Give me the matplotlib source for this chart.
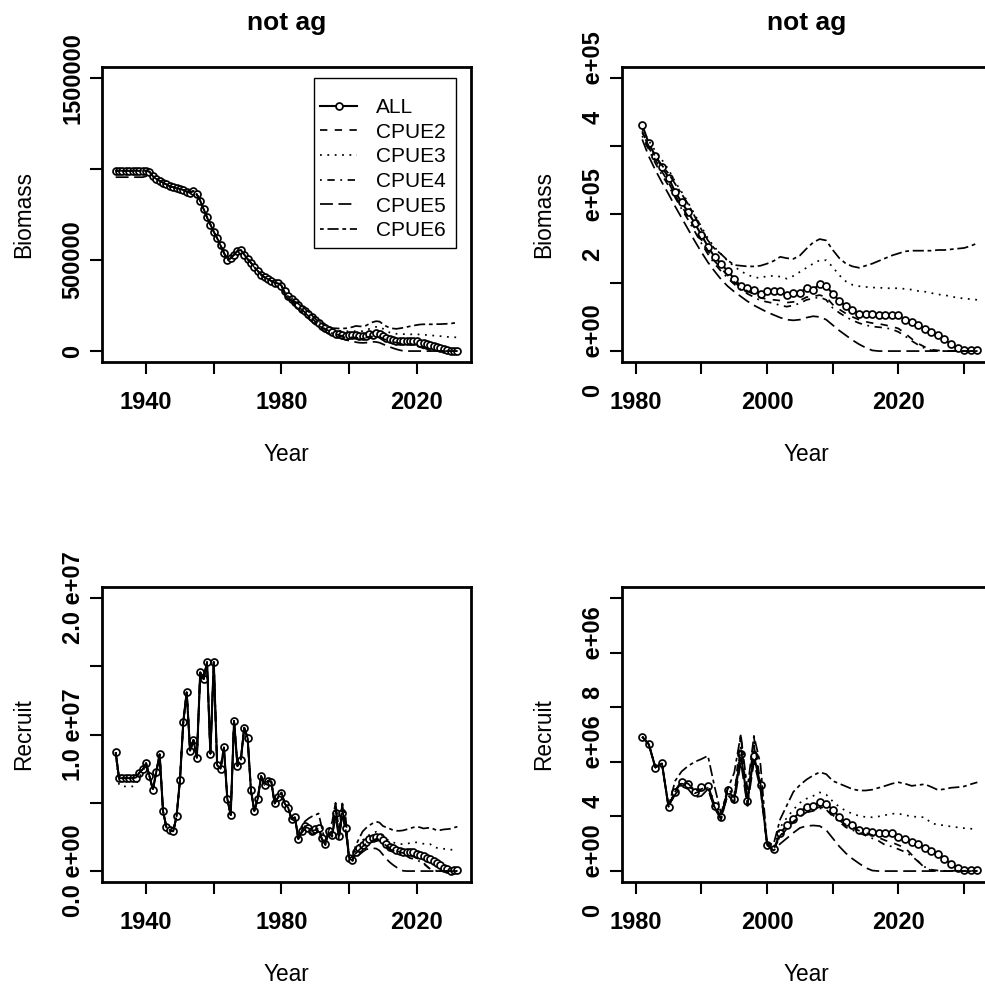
import numpy as np
import matplotlib
matplotlib.use('Agg')
import matplotlib.pyplot as plt
from matplotlib.patches import Rectangle

plt.rcParams['font.family'] = ['Liberation Sans', 'DejaVu Sans']
plt.rcParams['lines.scale_dashes'] = False

years = list(range(1931, 2033))
names = ['ALL', 'CPUE2', 'CPUE3', 'CPUE4', 'CPUE5', 'CPUE6']

# Biomass (thousands), 1931-1980 shared by all runs
bio_hist = [990, 990, 990, 990, 990, 990, 990, 990, 990, 990,
            985, 960, 945, 935, 925, 915, 905, 900, 895, 890,
            885, 875, 870, 880, 860, 825, 780, 735, 695, 655,
            620, 580, 540, 500, 510, 530, 550, 555, 530, 505,
            485, 460, 440, 420, 405, 395, 385, 375, 372, 360]
bio_cpue5_early = [955, 955, 955, 955, 955, 955, 955, 955, 955, 960]

# Biomass (thousands), 1981-2032
bio_all_tail = [331, 304, 286, 270, 254, 233, 218, 203, 187, 170,
                153, 138, 128, 117, 106, 95, 93, 90, 84, 88,
                88, 88, 82, 85, 85, 93, 90, 98, 95, 84,
                73, 66, 60, 55, 55, 55, 53, 53, 53, 53,
                46, 43, 38, 33, 28, 23, 17, 10, 4, 1,
                1, 1]
bio_cpue2_tail = [322, 298, 280, 263, 247, 228, 212, 197, 180, 163,
                  147, 132, 121, 111, 101, 93, 88, 83, 78, 76,
                  75, 74, 71, 72, 74, 79, 80, 82, 79, 68,
                  61, 55, 50, 46, 43, 41, 40, 38, 36, 33,
                  26, 18, 11, 6, 2, 1, 0, 0, 0, 0,
                  0, 0]
bio_cpue3_tail = [325, 308, 293, 280, 266, 248, 233, 217, 200, 182,
                  165, 152, 142, 132, 124, 117, 112, 108, 107, 110,
                  110, 109, 106, 110, 116, 122, 128, 133, 133, 123,
                  111, 102, 97, 95, 94, 93, 93, 92, 92, 92,
                  91, 90, 88, 87, 85, 83, 82, 80, 78, 77,
                  76, 75]
bio_cpue4_tail = [315, 295, 275, 258, 242, 225, 208, 192, 175, 158,
                  142, 128, 117, 107, 98, 90, 84, 79, 74, 72,
                  70, 67, 65, 67, 70, 75, 77, 79, 75, 63,
                  56, 50, 45, 41, 38, 36, 35, 34, 32, 28,
                  22, 15, 9, 4, 1, 0, 0, 0, 0, 0,
                  0, 0]
bio_cpue5_tail = [310, 285, 265, 247, 230, 212, 195, 178, 161, 145,
                  130, 117, 105, 95, 87, 80, 73, 67, 62, 57,
                  53, 49, 46, 45, 46, 49, 51, 50, 46, 38,
                  30, 23, 16, 10, 5, 1, 0, 0, 0, 0,
                  0, 0, 0, 0, 0, 0, 0, 0, 0, 0,
                  0, 0]
bio_cpue6_tail = [320, 300, 285, 272, 260, 245, 230, 215, 197, 178,
                  162, 150, 142, 133, 126, 125, 124, 124, 125, 128,
                  132, 138, 136, 135, 140, 150, 159, 164, 162, 148,
                  136, 128, 124, 122, 125, 128, 132, 136, 140, 143,
                  146, 147, 147, 147, 147, 148, 148, 149, 150, 151,
                  154, 158]

# Recruits (millions), 1931-1980 shared by all runs
rec_hist = [8.7, 6.8, 6.8, 6.8, 6.8, 6.8, 6.85, 7.2, 7.45, 7.9,
            6.95, 5.95, 7.25, 8.55, 4.4, 3.2, 3.0, 2.9, 4.0, 6.65,
            10.95, 13.1, 8.8, 9.6, 8.3, 14.55, 14.05, 15.3, 8.6, 15.3,
            7.75, 7.5, 9.05, 5.3, 4.1, 11.0, 7.7, 8.15, 10.5, 9.75,
            5.9, 4.4, 5.3, 6.95, 6.3, 6.6, 6.55, 4.95, 5.4, 5.75]
rec_cpue3_early = [8.6, 6.3, 6.2, 6.2, 6.2, 6.2, 6.3, 6.9, 7.3, 7.8]

# Recruits (millions), 1981-2032
rec_all_tail = [4.92, 4.64, 3.79, 3.94, 2.36, 2.91, 3.27, 3.19, 2.91, 3.07,
                3.13, 2.40, 1.97, 2.95, 2.64, 4.28, 2.58, 4.22, 3.15, 0.97,
                0.79, 1.39, 1.67, 1.92, 2.16, 2.36, 2.40, 2.52, 2.46, 2.25,
                1.97, 1.79, 1.67, 1.52, 1.47, 1.43, 1.39, 1.39, 1.39, 1.25,
                1.19, 1.07, 0.98, 0.86, 0.74, 0.62, 0.46, 0.25, 0.12, 0.04,
                0.05, 0.05]
rec_cpue2_tail = [4.92, 4.64, 3.79, 3.94, 2.36, 2.95, 3.3, 3.2, 2.95, 3.0,
                  3.1, 2.35, 1.9, 3.05, 2.7, 5.0, 2.4, 4.9, 3.2, 1.0,
                  0.8, 1.25, 1.55, 1.8, 2.0, 2.15, 2.25, 2.35, 2.3, 2.05,
                  1.85, 1.7, 1.58, 1.48, 1.4, 1.32, 1.22, 1.12, 1.05, 0.95,
                  0.85, 0.6, 0.35, 0.12, 0.02, 0.0, 0.0, 0.0, 0.0, 0.0,
                  0.0, 0.0]
rec_cpue3_tail = [4.92, 4.64, 3.79, 3.94, 2.36, 2.9, 3.25, 3.2, 2.95, 3.05,
                  3.15, 2.5, 2.05, 3.0, 2.8, 4.5, 2.7, 4.5, 3.3, 1.0,
                  0.85, 1.6, 1.95, 2.25, 2.5, 2.65, 2.75, 2.88, 2.8, 2.55,
                  2.35, 2.2, 2.1, 2.02, 1.98, 1.97, 2.0, 2.05, 2.1, 2.1,
                  2.05, 2.0, 1.98, 1.97, 1.75, 1.7, 1.67, 1.63, 1.6, 1.57,
                  1.55, 1.53]
rec_cpue4_tail = [4.92, 4.64, 3.79, 3.94, 2.36, 2.9, 3.2, 3.15, 2.85, 2.95,
                  3.05, 2.3, 1.95, 2.8, 2.55, 4.6, 2.3, 4.6, 3.0, 0.95,
                  0.75, 1.3, 1.55, 1.8, 2.0, 2.15, 2.2, 2.3, 2.25, 2.0,
                  1.8, 1.6, 1.5, 1.4, 1.3, 1.2, 1.1, 0.95, 0.9, 0.8,
                  0.7, 0.55, 0.35, 0.15, 0.05, 0.02, 0.01, 0.01, 0.01, 0.01,
                  0.01, 0.01]
rec_cpue5_tail = [4.92, 4.64, 3.79, 3.94, 2.36, 2.8, 3.1, 3.0, 2.7, 2.75,
                  3.0, 2.3, 1.9, 2.8, 2.5, 4.0, 2.4, 4.0, 3.0, 0.95,
                  0.75, 1.0, 1.2, 1.4, 1.58, 1.65, 1.67, 1.65, 1.5, 1.2,
                  0.9, 0.65, 0.45, 0.28, 0.12, 0.02, 0.0, 0.0, 0.0, 0.0,
                  0.0, 0.0, 0.0, 0.0, 0.0, 0.0, 0.0, 0.0, 0.0, 0.0,
                  0.0, 0.0]
rec_cpue6_tail = [4.92, 4.64, 3.79, 3.94, 2.36, 3.3, 3.65, 3.85, 4.0, 4.1,
                  4.22, 3.1, 2.1, 3.0, 3.6, 5.0, 3.0, 4.95, 3.9, 1.0,
                  1.0, 1.9, 2.4, 2.9, 3.15, 3.35, 3.5, 3.62, 3.55, 3.3,
                  3.2, 3.1, 3.0, 2.95, 2.95, 2.98, 3.05, 3.12, 3.2, 3.25,
                  3.2, 3.12, 3.15, 3.18, 3.08, 2.97, 3.0, 3.05, 3.07, 3.1,
                  3.18, 3.25]

biomass = {
    'ALL': bio_hist + bio_all_tail,
    'CPUE2': bio_hist + bio_cpue2_tail,
    'CPUE3': bio_hist + bio_cpue3_tail,
    'CPUE4': bio_hist + bio_cpue4_tail,
    'CPUE5': bio_cpue5_early + bio_hist[10:] + bio_cpue5_tail,
    'CPUE6': bio_hist + bio_cpue6_tail,
}
recruit = {
    'ALL': rec_hist + rec_all_tail,
    'CPUE2': rec_hist + rec_cpue2_tail,
    'CPUE3': rec_cpue3_early + rec_hist[10:] + rec_cpue3_tail,
    'CPUE4': rec_hist + rec_cpue4_tail,
    'CPUE5': rec_hist + rec_cpue5_tail,
    'CPUE6': rec_hist + rec_cpue6_tail,
}

# R style line types
dash = {
    'CPUE2': (0, (5.3, 5.3)),
    'CPUE3': (0, (1.3, 4.0)),
    'CPUE4': (0, (1.3, 4.0, 5.3, 4.0)),
    'CPUE5': (0, (9.3, 4.0)),
    'CPUE6': (0, (2.7, 2.7, 8.0, 2.7)),
}

W, H = 985, 986
fig = plt.figure(figsize=(W / 100, H / 100), dpi=100)
fig.patch.set_facecolor('white')


def box(x0, y0, x1, y1):
    return [x0 / W, 1 - y1 / H, (x1 - x0) / W, (y1 - y0) / H]


def panel(pos, data, scale, start, xlim, xticks, xlabels, ylim, yticks, ylabels, ylab):
    ax = fig.add_axes(box(*pos))
    x = np.array(years)
    keep = x >= start
    for n in names:
        y = np.array(data[n], dtype=float) * scale
        if n == 'ALL':
            ax.plot(x[keep], y[keep], '-', color='black', lw=1.5, marker='o',
                    ms=5.0, mfc='white', mec='black', mew=1.25, label=n, zorder=2)
        else:
            ax.plot(x[keep], y[keep], color='black', lw=1.25, linestyle=dash[n],
                    label=n, zorder=3)
    ax.set_xlim(*xlim)
    ax.set_ylim(*ylim)
    ax.set_xticks(xticks)
    ax.set_xticklabels(xlabels, fontsize=17, fontweight='bold')
    ax.set_yticks(yticks)
    ax.set_yticklabels(ylabels, fontsize=17, fontweight='bold', rotation=90, va='center')
    ax.tick_params(axis='both', direction='out', length=8.6, width=1.5, color='black')
    ax.tick_params(axis='x', pad=12)
    ax.tick_params(axis='y', pad=4)
    for s in ax.spines.values():
        s.set_linewidth(2.0)
    ax.set_xlabel('Year', fontsize=16.3)
    ax.xaxis.set_label_coords(0.5, -0.274)
    ax.set_ylabel(ylab, fontsize=16.3)
    ax.yaxis.set_label_coords(-0.18, 0.5)
    return ax


left_x = (1926.96, 2036.04)
right_x = (1977.92, 2034.08)
lx_t = [1940, 1960, 1980, 2000, 2020]
lx_l = ['1940', '', '1980', '', '2020']
rx_t = [1980, 1990, 2000, 2010, 2020, 2030]
rx_l = ['1980', '', '2000', '', '2020', '']

ax1 = panel((102, 67, 471, 362), biomass, 1e3, 1931, left_x, lx_t, lx_l,
            (-6e4, 1.56e6), [0, 5e5, 1e6, 1.5e6], ['0', '500000', '', '1500000'], 'Biomass')
ax2 = panel((622, 67, 991, 362), biomass, 1e3, 1981, right_x, rx_t, rx_l,
            (-1.6e4, 4.16e5), [0, 1e5, 2e5, 3e5, 4e5],
            ['0    e+00', '', '2    e+05', '', '4    e+05'], 'Biomass')
ax3 = panel((102, 587, 471, 882), recruit, 1e6, 1931, left_x, lx_t, lx_l,
            (-8e5, 2.08e7), [0, 5e6, 1e7, 1.5e7, 2e7],
            ['0.0 e+00', '', '1.0 e+07', '', '2.0 e+07'], 'Recruit')
ax4 = panel((622, 587, 991, 882), recruit, 1e6, 1981, right_x, rx_t, rx_l,
            (-4e5, 1.04e7), [0, 2e6, 4e6, 6e6, 8e6, 1e7],
            ['0    e+00', '', '4    e+06', '', '8    e+06', ''], 'Recruit')

for ax in (ax1, ax2):
    ax.text(0.5, (362 - 30) / 295, 'not ag', transform=ax.transAxes, ha='center',
            va='baseline', fontsize=19, fontweight='bold')

# legend: entries without frame, box drawn separately like R's legend()
pw, ph = 369, 295
leg = ax1.legend(loc='upper left', bbox_to_anchor=((320 - 102) / pw, (362 - 98) / ph),
                 borderaxespad=0, borderpad=0, frameon=False, fontsize=15,
                 handlelength=1.78, handletextpad=0.9, labelspacing=0.27, numpoints=1)
ax1.add_patch(Rectangle(((314 - 102) / pw, (362 - 248) / ph), (456 - 314) / pw, (248 - 78) / ph,
                        transform=ax1.transAxes, facecolor='white', edgecolor='black',
                        lw=1.0, zorder=4))
leg.set_zorder(5)

fig.savefig('out.png', dpi=100, facecolor='white')
